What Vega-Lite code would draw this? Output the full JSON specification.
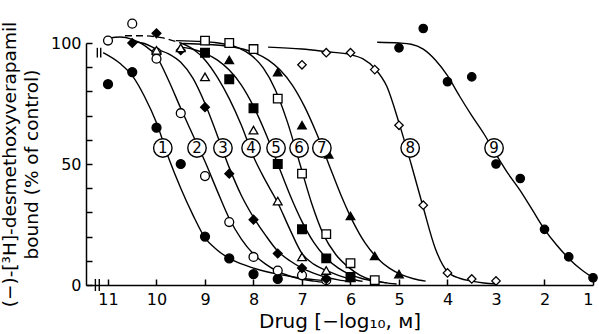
{
  "$schema": "https://vega.github.io/schema/vega-lite/v6.json",
  "width": 507,
  "height": 242,
  "autosize": {"type": "none"},
  "padding": {"left": 86, "top": 43, "right": 6, "bottom": 49},
  "background": "white",
  "config": {
    "view": {"stroke": null},
    "axis": {
      "grid": false,
      "domainColor": "black",
      "tickColor": "black",
      "labelColor": "black",
      "titleColor": "black",
      "labelFont": "DejaVu Sans",
      "titleFont": "DejaVu Sans",
      "titleFontWeight": "normal",
      "domainWidth": 1.5,
      "tickWidth": 1.5
    }
  },
  "datasets": {
    "pts": [
      {"s": "1", "x": 11, "y": 83}, {"s": "1", "x": 10.5, "y": 88}, {"s": "1", "x": 10, "y": 65}, {"s": "1", "x": 9.5, "y": 50}, {"s": "1", "x": 9, "y": 20}, {"s": "1", "x": 8.5, "y": 11}, {"s": "1", "x": 8, "y": 4.5}, {"s": "1", "x": 7.5, "y": 2.5},
      {"s": "2", "x": 11, "y": 101}, {"s": "2", "x": 10.5, "y": 108}, {"s": "2", "x": 10, "y": 96}, {"s": "2", "x": 10, "y": 93.5}, {"s": "2", "x": 9.5, "y": 71}, {"s": "2", "x": 9, "y": 45}, {"s": "2", "x": 8.5, "y": 26}, {"s": "2", "x": 8, "y": 11.6}, {"s": "2", "x": 7.5, "y": 6}, {"s": "2", "x": 7, "y": 4}, {"s": "2", "x": 6.5, "y": 2},
      {"s": "3", "x": 10.5, "y": 100}, {"s": "3", "x": 10, "y": 104}, {"s": "3", "x": 9.5, "y": 97}, {"s": "3", "x": 9, "y": 73.5}, {"s": "3", "x": 8.5, "y": 46}, {"s": "3", "x": 8, "y": 27}, {"s": "3", "x": 7.5, "y": 13}, {"s": "3", "x": 7, "y": 7}, {"s": "3", "x": 6.5, "y": 2.5},
      {"s": "4", "x": 10, "y": 97}, {"s": "4", "x": 9.5, "y": 98}, {"s": "4", "x": 9, "y": 86}, {"s": "4", "x": 8, "y": 64}, {"s": "4", "x": 7.5, "y": 34.7}, {"s": "4", "x": 7, "y": 11.6}, {"s": "4", "x": 6.5, "y": 6}, {"s": "4", "x": 6, "y": 3},
      {"s": "5", "x": 9, "y": 96}, {"s": "5", "x": 8.5, "y": 85}, {"s": "5", "x": 8, "y": 73}, {"s": "5", "x": 7.5, "y": 50}, {"s": "5", "x": 7, "y": 23}, {"s": "5", "x": 6.5, "y": 11}, {"s": "5", "x": 6, "y": 3.3},
      {"s": "6", "x": 9, "y": 101}, {"s": "6", "x": 8.5, "y": 100}, {"s": "6", "x": 8, "y": 97.5}, {"s": "6", "x": 7.5, "y": 77}, {"s": "6", "x": 7, "y": 46}, {"s": "6", "x": 6.5, "y": 21}, {"s": "6", "x": 6, "y": 9}, {"s": "6", "x": 5.5, "y": 2},
      {"s": "7", "x": 8.5, "y": 93}, {"s": "7", "x": 7.5, "y": 88}, {"s": "7", "x": 7, "y": 66}, {"s": "7", "x": 6.45, "y": 54}, {"s": "7", "x": 6, "y": 28.5}, {"s": "7", "x": 5.5, "y": 12}, {"s": "7", "x": 5, "y": 4.5},
      {"s": "8", "x": 7, "y": 91}, {"s": "8", "x": 6.5, "y": 96}, {"s": "8", "x": 6, "y": 96}, {"s": "8", "x": 5.5, "y": 89}, {"s": "8", "x": 5, "y": 66}, {"s": "8", "x": 4.5, "y": 33}, {"s": "8", "x": 4, "y": 5}, {"s": "8", "x": 3.5, "y": 2.5}, {"s": "8", "x": 3, "y": 1.7},
      {"s": "9", "x": 5, "y": 98}, {"s": "9", "x": 4.5, "y": 106}, {"s": "9", "x": 4, "y": 84}, {"s": "9", "x": 3.5, "y": 86}, {"s": "9", "x": 3, "y": 50}, {"s": "9", "x": 2.5, "y": 44}, {"s": "9", "x": 2, "y": 23}, {"s": "9", "x": 1.5, "y": 11.6}, {"s": "9", "x": 1, "y": 3}
    ],
    "curves": [
      {"c": "1", "x": 11.1, "y": 96}, {"c": "1", "x": 10.75, "y": 91.5}, {"c": "1", "x": 10.5, "y": 86.5}, {"c": "1", "x": 10.25, "y": 78}, {"c": "1", "x": 10.0, "y": 67}, {"c": "1", "x": 9.75, "y": 52.5}, {"c": "1", "x": 9.5, "y": 40}, {"c": "1", "x": 9.25, "y": 29}, {"c": "1", "x": 9.0, "y": 19.5}, {"c": "1", "x": 8.75, "y": 14.5}, {"c": "1", "x": 8.5, "y": 11}, {"c": "1", "x": 8.25, "y": 8.7}, {"c": "1", "x": 8.0, "y": 7}, {"c": "1", "x": 7.75, "y": 5.6}, {"c": "1", "x": 7.5, "y": 4.5}, {"c": "1", "x": 7.25, "y": 3.6}, {"c": "1", "x": 7.0, "y": 2.8}, {"c": "1", "x": 6.75, "y": 2.2}, {"c": "1", "x": 6.5, "y": 1.7},
      {"c": "2", "x": 11.0, "y": 102}, {"c": "2", "x": 10.75, "y": 102.5}, {"c": "2", "x": 10.5, "y": 101.5}, {"c": "2", "x": 10.25, "y": 99}, {"c": "2", "x": 10.0, "y": 94.5}, {"c": "2", "x": 9.75, "y": 84.5}, {"c": "2", "x": 9.5, "y": 73}, {"c": "2", "x": 9.25, "y": 62}, {"c": "2", "x": 9.0, "y": 51}, {"c": "2", "x": 8.75, "y": 39}, {"c": "2", "x": 8.5, "y": 27.5}, {"c": "2", "x": 8.25, "y": 19}, {"c": "2", "x": 8.0, "y": 12.8}, {"c": "2", "x": 7.75, "y": 8.6}, {"c": "2", "x": 7.5, "y": 5.6}, {"c": "2", "x": 7.25, "y": 3.7}, {"c": "2", "x": 7.0, "y": 2.4}, {"c": "2", "x": 6.75, "y": 1.6}, {"c": "2", "x": 6.5, "y": 1.0},
      {"c": "3", "x": 10.5, "y": 100.5}, {"c": "3", "x": 10.25, "y": 99.8}, {"c": "3", "x": 10.0, "y": 97.5}, {"c": "3", "x": 9.75, "y": 95.5}, {"c": "3", "x": 9.5, "y": 92}, {"c": "3", "x": 9.25, "y": 85.5}, {"c": "3", "x": 9.0, "y": 75}, {"c": "3", "x": 8.75, "y": 62}, {"c": "3", "x": 8.5, "y": 48.5}, {"c": "3", "x": 8.25, "y": 37}, {"c": "3", "x": 8.0, "y": 28}, {"c": "3", "x": 7.75, "y": 20.5}, {"c": "3", "x": 7.5, "y": 14}, {"c": "3", "x": 7.25, "y": 10}, {"c": "3", "x": 7.0, "y": 7}, {"c": "3", "x": 6.75, "y": 4.8}, {"c": "3", "x": 6.5, "y": 3.2}, {"c": "3", "x": 6.25, "y": 2.1}, {"c": "3", "x": 6.0, "y": 1.3},
      {"c": "4", "x": 9.5, "y": 100}, {"c": "4", "x": 9.25, "y": 97.5}, {"c": "4", "x": 9.0, "y": 93}, {"c": "4", "x": 8.75, "y": 86}, {"c": "4", "x": 8.5, "y": 77}, {"c": "4", "x": 8.25, "y": 66}, {"c": "4", "x": 8.0, "y": 53}, {"c": "4", "x": 7.75, "y": 43}, {"c": "4", "x": 7.5, "y": 34}, {"c": "4", "x": 7.25, "y": 23}, {"c": "4", "x": 7.0, "y": 13}, {"c": "4", "x": 6.75, "y": 8.5}, {"c": "4", "x": 6.5, "y": 6}, {"c": "4", "x": 6.25, "y": 4}, {"c": "4", "x": 6.0, "y": 2.5}, {"c": "4", "x": 5.75, "y": 1.5},
      {"c": "5", "x": 9.5, "y": 98.4}, {"c": "5", "x": 9.25, "y": 97.4}, {"c": "5", "x": 9.0, "y": 95.7}, {"c": "5", "x": 8.75, "y": 93.0}, {"c": "5", "x": 8.5, "y": 88.8}, {"c": "5", "x": 8.25, "y": 82.6}, {"c": "5", "x": 8.0, "y": 73.8}, {"c": "5", "x": 7.75, "y": 62.7}, {"c": "5", "x": 7.5, "y": 50}, {"c": "5", "x": 7.25, "y": 37.3}, {"c": "5", "x": 7.0, "y": 26.2}, {"c": "5", "x": 6.75, "y": 17.4}, {"c": "5", "x": 6.5, "y": 11.2}, {"c": "5", "x": 6.25, "y": 7.0}, {"c": "5", "x": 6.0, "y": 4.3}, {"c": "5", "x": 5.75, "y": 2.6}, {"c": "5", "x": 5.5, "y": 1.6}, {"c": "5", "x": 5.25, "y": 0.9},
      {"c": "6", "x": 9.6, "y": 101}, {"c": "6", "x": 9.05, "y": 100.6}, {"c": "6", "x": 8.8, "y": 100.2}, {"c": "6", "x": 8.55, "y": 99.4}, {"c": "6", "x": 8.3, "y": 97.9}, {"c": "6", "x": 8.05, "y": 95.0}, {"c": "6", "x": 7.8, "y": 89.7}, {"c": "6", "x": 7.55, "y": 80.7}, {"c": "6", "x": 7.3, "y": 67.3}, {"c": "6", "x": 7.05, "y": 50.5}, {"c": "6", "x": 6.8, "y": 33.7}, {"c": "6", "x": 6.55, "y": 20.5}, {"c": "6", "x": 6.3, "y": 12.5}, {"c": "6", "x": 6.05, "y": 7.5}, {"c": "6", "x": 5.8, "y": 4}, {"c": "6", "x": 5.55, "y": 2}, {"c": "6", "x": 5.3, "y": 1}, {"c": "6", "x": 5.05, "y": 0.4},
      {"c": "7", "x": 9.45, "y": 99.8}, {"c": "7", "x": 8.95, "y": 99.4}, {"c": "7", "x": 8.45, "y": 98.4}, {"c": "7", "x": 8.2, "y": 97.4}, {"c": "7", "x": 7.95, "y": 95.7}, {"c": "7", "x": 7.7, "y": 93.0}, {"c": "7", "x": 7.45, "y": 88.8}, {"c": "7", "x": 7.2, "y": 82.6}, {"c": "7", "x": 6.95, "y": 73.8}, {"c": "7", "x": 6.7, "y": 62.7}, {"c": "7", "x": 6.45, "y": 50}, {"c": "7", "x": 6.2, "y": 37.3}, {"c": "7", "x": 5.95, "y": 26.2}, {"c": "7", "x": 5.7, "y": 17.4}, {"c": "7", "x": 5.45, "y": 11.2}, {"c": "7", "x": 5.2, "y": 7.0}, {"c": "7", "x": 4.95, "y": 4.3}, {"c": "7", "x": 4.7, "y": 2.6}, {"c": "7", "x": 4.45, "y": 1.6},
      {"c": "8", "x": 7.7, "y": 98.3}, {"c": "8", "x": 7.0, "y": 97.5}, {"c": "8", "x": 6.5, "y": 96.4}, {"c": "8", "x": 6.0, "y": 95.2}, {"c": "8", "x": 5.75, "y": 93.5}, {"c": "8", "x": 5.5, "y": 89.5}, {"c": "8", "x": 5.25, "y": 82}, {"c": "8", "x": 5.0, "y": 67}, {"c": "8", "x": 4.75, "y": 50}, {"c": "8", "x": 4.5, "y": 32}, {"c": "8", "x": 4.25, "y": 15}, {"c": "8", "x": 4.0, "y": 5.5}, {"c": "8", "x": 3.75, "y": 2.8}, {"c": "8", "x": 3.5, "y": 1.6}, {"c": "8", "x": 3.25, "y": 0.8}, {"c": "8", "x": 3.0, "y": 0.4},
      {"c": "9", "x": 5.45, "y": 100.3}, {"c": "9", "x": 5.0, "y": 100}, {"c": "9", "x": 4.75, "y": 99.5}, {"c": "9", "x": 4.5, "y": 97.5}, {"c": "9", "x": 4.25, "y": 93}, {"c": "9", "x": 4.0, "y": 86.5}, {"c": "9", "x": 3.75, "y": 78}, {"c": "9", "x": 3.5, "y": 70}, {"c": "9", "x": 3.25, "y": 62.5}, {"c": "9", "x": 3.0, "y": 54}, {"c": "9", "x": 2.75, "y": 46}, {"c": "9", "x": 2.5, "y": 39}, {"c": "9", "x": 2.25, "y": 31}, {"c": "9", "x": 2.0, "y": 23}, {"c": "9", "x": 1.75, "y": 16.5}, {"c": "9", "x": 1.5, "y": 11}, {"c": "9", "x": 1.25, "y": 6.5}, {"c": "9", "x": 1.0, "y": 3}
    ],
    "dashed": [
      {"c": "4", "x": 10.65, "y": 103}, {"c": "4", "x": 10.3, "y": 103}, {"c": "4", "x": 9.9, "y": 102.2}, {"c": "4", "x": 9.5, "y": 100}
    ],
    "labels": [
      {"n": "1", "x": 9.87, "y": 56.6}, {"n": "2", "x": 9.165, "y": 56.6}, {"n": "3", "x": 8.63, "y": 56.6},
      {"n": "4", "x": 8.05, "y": 56.6}, {"n": "5", "x": 7.535, "y": 56.6}, {"n": "6", "x": 7.06, "y": 56.6},
      {"n": "7", "x": 6.59, "y": 56.6}, {"n": "8", "x": 4.77, "y": 56.6}, {"n": "9", "x": 3.04, "y": 56.6}
    ],
    "breaks": [
      {"x": 11.26, "y": -2.5, "y2": 2.5}, {"x": 11.18, "y": -2.5, "y2": 2.5},
      {"x": 11.22, "y": 94, "y2": 98}, {"x": 11.15, "y": 94, "y2": 98}
    ]
  },
  "encoding": {
    "x": {
      "field": "x", "type": "quantitative",
      "scale": {"domain": [1, 11.4536], "reverse": true, "nice": false, "zero": false},
      "axis": {
        "values": [1, 2, 3, 4, 5, 6, 7, 8, 9, 10, 11],
        "format": "d",
        "tickSize": -6,
        "labelPadding": 12,
        "labelFontSize": 16,
        "title": "Drug [−log₁₀, ᴍ]",
        "titleFontSize": 20,
        "titlePadding": 4
      }
    },
    "y": {
      "field": "y", "type": "quantitative",
      "scale": {"domain": [0, 100], "nice": false, "zero": false},
      "axis": {
        "values": [0, 10, 20, 30, 40, 50, 60, 70, 80, 90, 100],
        "labelExpr": "datum.value % 50 === 0 ? datum.label : ''",
        "tickSize": -6,
        "labelPadding": 11,
        "labelFontSize": 16,
        "title": ["(−)-[³H]-desmethoxyverapamil", "bound (% of control)"],
        "titleFontSize": 18.5,
        "titleLineHeight": 22,
        "titlePadding": 9
      }
    }
  },
  "layer": [
    {
      "data": {"name": "breaks"},
      "mark": {"type": "rule", "color": "black", "strokeWidth": 1.4},
      "encoding": {"y2": {"field": "y2"}}
    },
    {
      "data": {"name": "curves"},
      "mark": {"type": "line", "interpolate": "monotone", "color": "black", "strokeWidth": 1.4},
      "encoding": {"detail": {"field": "c", "type": "nominal"}}
    },
    {
      "data": {"name": "dashed"},
      "mark": {"type": "line", "interpolate": "monotone", "color": "black", "strokeWidth": 1.4, "strokeDash": [7, 4]},
      "encoding": {"detail": {"field": "c", "type": "nominal"}}
    },
    {
      "data": {"name": "pts"},
      "mark": {"type": "point", "stroke": "black", "strokeWidth": 1.3, "opacity": 1, "fillOpacity": 1},
      "encoding": {
        "shape": {"field": "s", "type": "nominal", "legend": null,
          "scale": {"domain": ["1", "2", "3", "4", "5", "6", "7", "8", "9"],
            "range": ["circle", "circle", "diamond", "triangle-up", "square", "square", "triangle-up", "diamond", "circle"]}},
        "fill": {"field": "s", "type": "nominal", "legend": null,
          "scale": {"domain": ["1", "2", "3", "4", "5", "6", "7", "8", "9"],
            "range": ["black", "white", "black", "white", "black", "white", "black", "white", "black"]}},
        "size": {"field": "s", "type": "nominal", "legend": null,
          "scale": {"domain": ["1", "2", "3", "4", "5", "6", "7", "8", "9"],
            "range": [80, 70, 120, 90, 80, 75, 95, 115, 80]}}
      }
    },
    {
      "data": {"name": "labels"},
      "mark": {"type": "point", "shape": "circle", "size": 340, "fill": "white", "stroke": "black", "strokeWidth": 1.4, "opacity": 1, "fillOpacity": 1}
    },
    {
      "data": {"name": "labels"},
      "mark": {"type": "text", "font": "DejaVu Sans", "fontSize": 15, "align": "center", "baseline": "middle", "color": "black"},
      "encoding": {"text": {"field": "n", "type": "nominal"}}
    }
  ]
}
